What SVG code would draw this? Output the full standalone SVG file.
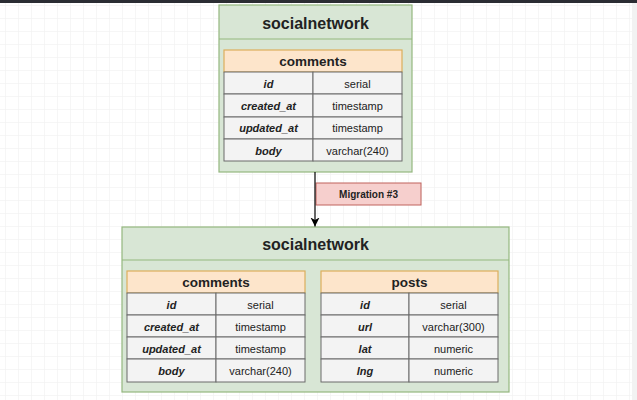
<svg xmlns="http://www.w3.org/2000/svg" width="637" height="400" viewBox="0 0 637 400">
<defs>
<pattern id="grid" width="13" height="13" patternUnits="userSpaceOnUse" x="5" y="5">
<path d="M13 0H0V13" fill="none" stroke="#eeeeee" stroke-width="1"/>
</pattern>
<marker id="arr" markerWidth="11" markerHeight="11" refX="9" refY="5" orient="auto" markerUnits="userSpaceOnUse">
<path d="M0 0.5 L9 5 L0 9.5 L2.5 5 Z" fill="#000"/>
</marker>
</defs>
<style>
.db{fill:#d8e6d5;stroke:#94b77f;stroke-width:1.2}
.hd{fill:#fde5cb;stroke:#dcae5c;stroke-width:1.2}
.cell{fill:#f3f3f3;stroke:#6b6b6b;stroke-width:1}
.mig{fill:#f6cfcd;stroke:#c0625c;stroke-width:1}
text{font-family:"Liberation Sans",Arial,sans-serif;fill:#222;text-anchor:middle;dominant-baseline:central}
.t1{font-size:16px;font-weight:bold}
.t2{font-size:13.5px;font-weight:bold}
.k{font-size:11px;font-weight:bold;font-style:italic}
.v{font-size:11px}
.m{font-size:10px;font-weight:bold}
</style>
<rect width="637" height="400" fill="#ffffff"/>
<rect width="637" height="400" fill="url(#grid)"/>
<rect width="637" height="3" fill="#2b2d33"/>
<rect x="632" y="3" width="5" height="397" fill="#f2f2f2"/>

<g id="migration">
<rect class="mig" x="316" y="183" width="105" height="22"/>
<text class="m" x="368.5" y="194.5">Migration #3</text>
</g>

<g id="db-before">
<rect class="db" x="219" y="5" width="193" height="167"/>
<line x1="219" y1="39" x2="412" y2="39" stroke="#94b77f" stroke-width="1.2"/>
<text class="t1" x="315.5" y="23">socialnetwork</text>
<g id="comments-before">
<rect class="hd" x="224" y="50" width="178" height="22"/>
<text class="t2" x="313" y="61.5">comments</text>
<rect class="cell" x="224" y="72" width="89" height="22"/>
<rect class="cell" x="313" y="72" width="89" height="22"/>
<rect class="cell" x="224" y="94" width="89" height="23"/>
<rect class="cell" x="313" y="94" width="89" height="23"/>
<rect class="cell" x="224" y="117" width="89" height="22"/>
<rect class="cell" x="313" y="117" width="89" height="22"/>
<rect class="cell" x="224" y="139" width="89" height="22"/>
<rect class="cell" x="313" y="139" width="89" height="22"/>
<text class="k" x="268.5" y="83.5">id</text><text class="v" x="357.5" y="83.5">serial</text>
<text class="k" x="268.5" y="105.5">created_at</text><text class="v" x="357.5" y="105.5">timestamp</text>
<text class="k" x="268.5" y="128">updated_at</text><text class="v" x="357.5" y="128">timestamp</text>
<text class="k" x="268.5" y="150.5">body</text><text class="v" x="357.5" y="150.5">varchar(240)</text>
</g>
</g>

<g id="db-after">
<rect class="db" x="122" y="227" width="387" height="165"/>
<line x1="122" y1="260" x2="509" y2="260" stroke="#94b77f" stroke-width="1.2"/>
<text class="t1" x="315.5" y="244">socialnetwork</text>
<g id="comments-after">
<rect class="hd" x="127" y="271" width="178" height="22"/>
<text class="t2" x="216" y="282.5">comments</text>
<rect class="cell" x="127" y="293" width="89" height="22"/>
<rect class="cell" x="216" y="293" width="89" height="22"/>
<rect class="cell" x="127" y="315" width="89" height="22"/>
<rect class="cell" x="216" y="315" width="89" height="22"/>
<rect class="cell" x="127" y="337" width="89" height="22"/>
<rect class="cell" x="216" y="337" width="89" height="22"/>
<rect class="cell" x="127" y="359" width="89" height="23"/>
<rect class="cell" x="216" y="359" width="89" height="23"/>
<text class="k" x="171.5" y="304.5">id</text><text class="v" x="260.5" y="304.5">serial</text>
<text class="k" x="171.5" y="326.5">created_at</text><text class="v" x="260.5" y="326.5">timestamp</text>
<text class="k" x="171.5" y="348.5">updated_at</text><text class="v" x="260.5" y="348.5">timestamp</text>
<text class="k" x="171.5" y="371">body</text><text class="v" x="260.5" y="371">varchar(240)</text>
</g>
<g id="posts">
<rect class="hd" x="321" y="271" width="177" height="22"/>
<text class="t2" x="409.5" y="282.5">posts</text>
<rect class="cell" x="321" y="293" width="88" height="22"/>
<rect class="cell" x="409" y="293" width="89" height="22"/>
<rect class="cell" x="321" y="315" width="88" height="22"/>
<rect class="cell" x="409" y="315" width="89" height="22"/>
<rect class="cell" x="321" y="337" width="88" height="22"/>
<rect class="cell" x="409" y="337" width="89" height="22"/>
<rect class="cell" x="321" y="359" width="88" height="23"/>
<rect class="cell" x="409" y="359" width="89" height="23"/>
<text class="k" x="365" y="304.5">id</text><text class="v" x="453.5" y="304.5">serial</text>
<text class="k" x="365" y="326.5">url</text><text class="v" x="453.5" y="326.5">varchar(300)</text>
<text class="k" x="365" y="348.5">lat</text><text class="v" x="453.5" y="348.5">numeric</text>
<text class="k" x="365" y="371">lng</text><text class="v" x="453.5" y="371">numeric</text>
</g>
</g>

<g id="connectors">
<line x1="315" y1="172" x2="315" y2="226.5" stroke="#000" stroke-width="1.2" marker-end="url(#arr)"/>
</g>
</svg>
